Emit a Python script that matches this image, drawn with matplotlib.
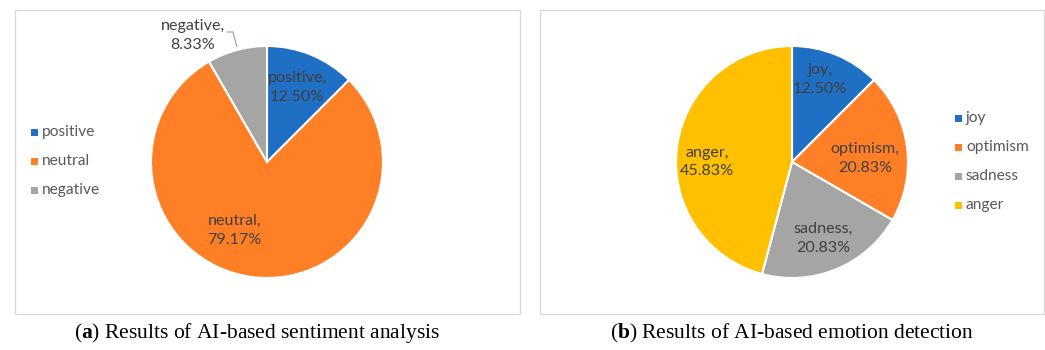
import matplotlib
matplotlib.use("Agg")
import matplotlib.pyplot as plt
from matplotlib.patches import Rectangle

# Sentiment analysis results
sent_labels = ["positive", "neutral", "negative"]
sent_values = [12.50, 79.17, 8.33]
sent_colors = ["#1F6FC5", "#FF7F27", "#A5A5A5"]

# Emotion detection results
emo_labels = ["joy", "optimism", "sadness", "anger"]
emo_values = [12.50, 20.83, 20.83, 45.83]
emo_colors = ["#1F6FC5", "#FF7F27", "#A5A5A5", "#FFC000"]

captions = [("a", "Results of AI-based sentiment analysis"),
            ("b", "Results of AI-based emotion detection")]

plt.rcParams["mathtext.fontset"] = "custom"
plt.rcParams["mathtext.bf"] = "Liberation Serif:bold"
plt.rcParams["mathtext.rm"] = "Liberation Serif"

W, H = 1045, 350
fig = plt.figure(figsize=(W / 100, H / 100), dpi=100)
ax = fig.add_axes([0, 0, 1, 1])

FONT = "Lato"
LABEL_COLOR = "#404040"
LEGEND_COLOR = "#595959"
R = 116


def y(py):
    """Convert a top-down pixel row to the axes' bottom-up coordinate."""
    return H - py


def panel(x0, x1, center, values, labels, colors, label_offsets,
          legend_x, legend_y0, legend_step):
    # chart area frame
    ax.add_patch(Rectangle((x0, y(314)), x1 - x0, 304, facecolor="white",
                           edgecolor="#D9D9D9", lw=1.0, zorder=0))
    wedges, _ = ax.pie(values, colors=colors, startangle=90, counterclock=False,
                       radius=R, center=center, frame=True,
                       wedgeprops=dict(edgecolor="white", linewidth=1.5))
    for w in wedges:
        w.set_zorder(2)
    for lab, val, (dx, dy) in zip(labels, values, label_offsets):
        ax.text(center[0] + dx * R, center[1] + dy * R, f"{lab},\n{val:.2f}%",
                ha="center", va="center", fontsize=11.6, family=FONT,
                color=LABEL_COLOR, linespacing=1.45, zorder=3)
    # legend
    for i, (lab, col) in enumerate(zip(labels, colors)):
        yy = y(legend_y0 + i * legend_step)
        ax.add_patch(Rectangle((legend_x, yy - 3.5), 7, 7, facecolor=col,
                               edgecolor="none", zorder=3))
        ax.text(legend_x + 11, yy, lab, ha="left", va="center", fontsize=11.2,
                family=FONT, color=LEGEND_COLOR, zorder=3)
    return wedges


panel(15, 520, (267, y(162)), sent_values, sent_labels, sent_colors,
      [(0.26, 0.64), (-0.28, -0.59), (-0.64, 1.09)],
      31, 132, 29)

# leader line for the outside "negative" label
ax.plot([227, 233, 237], [y(32), y(32), y(47)], color="#A6A6A6", lw=0.9,
        zorder=3, solid_capstyle="butt")

panel(540, 1044, (792, y(162)), emo_values, emo_labels, emo_colors,
      [(0.24, 0.71), (0.63, 0.03), (0.27, -0.66), (-0.73, 0.0)],
      955, 118, 29)

# sub-figure captions
for cx, (tag, text) in zip([257, 792], captions):
    ax.text(cx, y(333), r"($\mathbf{" + tag + r"}$) " + text, ha="center",
            va="center", fontsize=15.5, family="Liberation Serif", color="black")

ax.set_xlim(0, W)
ax.set_ylim(0, H)
ax.set_aspect("equal")
ax.axis("off")

fig.savefig("out.png", dpi=100, facecolor="white")
